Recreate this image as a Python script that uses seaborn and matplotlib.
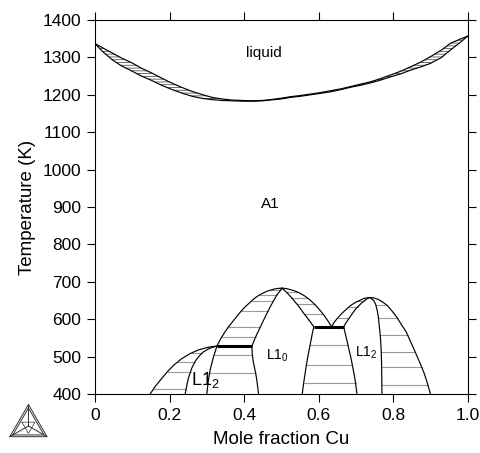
import numpy as np
import matplotlib
matplotlib.use('Agg')
import matplotlib.pyplot as plt
import seaborn as sns

# liquid / A1 lens
liq_x = [0.0, 0.02, 0.046, 0.07, 0.1, 0.125, 0.153, 0.18, 0.207, 0.235,
         0.261, 0.29, 0.315, 0.34, 0.368, 0.395, 0.422, 0.45, 0.47, 0.5,
         0.524, 0.55, 0.578, 0.605, 0.632, 0.66, 0.685, 0.71, 0.74, 0.765,
         0.793, 0.82, 0.847, 0.875, 0.9, 0.93, 0.954, 0.98, 1.0]
liquidus_T = [1337, 1326, 1312, 1299, 1285, 1271, 1258, 1244, 1231, 1219,
              1209, 1200, 1193, 1189, 1186, 1185, 1184, 1185, 1187, 1191,
              1195, 1198, 1202, 1206, 1211, 1216, 1222, 1228, 1235, 1243,
              1253, 1263, 1275, 1288, 1302, 1320, 1338, 1349, 1357]
solidus_T = [1337, 1316, 1294, 1278, 1263, 1250, 1238, 1225, 1214, 1204,
             1196, 1190, 1187, 1185, 1184, 1183, 1183, 1184, 1186, 1189,
             1193, 1196, 1200, 1204, 1208, 1214, 1220, 1225, 1232, 1239,
             1248, 1256, 1266, 1275, 1284, 1300, 1320, 1340, 1357]

# Au3Cu (L1_2) dome
au3cu_outer_x = [0.148, 0.16, 0.175, 0.192, 0.21, 0.232, 0.255, 0.278, 0.30, 0.315, 0.327]
au3cu_outer_T = [400, 418, 437, 457, 476, 494, 508, 518, 524, 527, 528]
au3cu_inner_x = [0.242, 0.246, 0.250, 0.255, 0.260, 0.266, 0.272, 0.281, 0.29, 0.30, 0.31, 0.319, 0.327]
au3cu_inner_T = [400, 421, 440, 456, 470, 482, 492, 503, 512, 518, 523, 526, 528]
au3cu_right_x = [0.300, 0.304, 0.309, 0.314, 0.318, 0.323, 0.327]
au3cu_right_T = [400, 435, 464, 484, 500, 515, 528]

# AuCu (L1_0) dome
aucu_low_left_x = [0.439, 0.436, 0.433, 0.429, 0.425, 0.422, 0.421]
aucu_low_left_T = [400, 423, 445, 466, 485, 507, 528]
aucu_outer_left_x = [0.327, 0.338, 0.35, 0.361, 0.372, 0.384, 0.395, 0.406, 0.417,
                     0.428, 0.44, 0.451, 0.462, 0.472, 0.482, 0.492, 0.502]
aucu_outer_left_T = [528, 549, 568, 583, 597, 612, 625, 636, 646,
                     656, 664, 670, 675, 678, 681, 682.5, 683]
aucu_inner_left_x = [0.421, 0.432, 0.444, 0.457, 0.47, 0.488, 0.502]
aucu_inner_left_T = [528, 555, 580, 607, 633, 665, 683]
aucu_inner_right_x = [0.502, 0.518, 0.533, 0.547, 0.56, 0.574, 0.587]
aucu_inner_right_T = [683, 668, 651, 634, 616, 598, 580]
aucu_outer_right_x = [0.502, 0.513, 0.525, 0.538, 0.551, 0.563, 0.575, 0.586, 0.596,
                      0.607, 0.617, 0.626, 0.635]
aucu_outer_right_T = [683, 682, 679, 675, 669, 662, 653, 643, 633, 620, 607, 594, 580]
aucu_low_right_x = [0.556, 0.561, 0.566, 0.571, 0.577, 0.582, 0.587]
aucu_low_right_T = [400, 437, 470, 500, 530, 556, 580]

# Cu3Au (L1_2) dome
cu3au_low_left_x = [0.703, 0.698, 0.692, 0.686, 0.679, 0.673, 0.667]
cu3au_low_left_T = [400, 437, 470, 500, 530, 556, 580]
cu3au_outer_left_x = [0.635, 0.642, 0.65, 0.658, 0.667, 0.676, 0.685, 0.694, 0.703,
                      0.712, 0.72, 0.728, 0.737]
cu3au_outer_left_T = [580, 592, 602, 611, 620, 628, 636, 642, 647, 651, 655, 657, 658]
cu3au_inner_left_x = [0.667, 0.674, 0.68, 0.687, 0.694, 0.701, 0.708, 0.715, 0.721, 0.729, 0.737]
cu3au_inner_left_T = [580, 591, 600, 610, 620, 629, 636, 643, 648, 654, 658]
cu3au_inner_right_x = [0.737, 0.742, 0.748, 0.753, 0.757, 0.760, 0.762, 0.764, 0.766, 0.768, 0.769, 0.770]
cu3au_inner_right_T = [658, 655, 650, 640, 625, 608, 590, 570, 550, 515, 480, 400]
cu3au_outer_right_x = [0.737, 0.748, 0.76, 0.772, 0.785, 0.797, 0.81, 0.822, 0.835,
                       0.845, 0.855, 0.865, 0.875, 0.883, 0.89, 0.895, 0.90]
cu3au_outer_right_T = [658, 657, 653, 646, 636, 622, 605, 586, 566,
                       544, 522, 499, 476, 456, 435, 418, 400]

# three-phase lines
inv_T = [528, 580]
inv_x_from = [0.327, 0.587]
inv_x_to = [0.421, 0.667]

# tie-line temperatures in each two-phase field
ties_au3cu_a1 = [413, 460, 486, 510]
ties_au3cu_aucu = [455, 504]
ties_aucu_a1_left = [553, 578, 622, 648, 665, 678]
ties_aucu_a1_right = [614, 640, 658, 672]
ties_aucu_cu3au = [429, 477, 531]
ties_cu3au_a1_left = [602, 633, 648]
ties_cu3au_a1_right = [424, 473, 513, 558, 602, 638]

x_ticks = [0, 0.2, 0.4, 0.6, 0.8, 1.0]
x_tick_labels = ['0', '0.2', '0.4', '0.6', '0.8', '1.0']
y_ticks = [400, 500, 600, 700, 800, 900, 1000, 1100, 1200, 1300, 1400]

sns.set_style('ticks')
plt.rcParams['font.family'] = ['Liberation Sans', 'DejaVu Sans']
plt.rcParams['mathtext.default'] = 'regular'
plt.rcParams['hatch.linewidth'] = 0.6
plt.rcParams.update({'text.color': 'black', 'axes.labelcolor': 'black',
                     'xtick.color': 'black', 'ytick.color': 'black'})

fig = plt.figure(figsize=(4.81, 4.53), dpi=100)
ax = fig.add_axes([0.1975, 0.1302, 0.7748, 0.8256])

LW = 0.85
TIE = '#9a9a9a'


def curve(xs, ts):
    sns.lineplot(x=xs, y=ts, sort=False, estimator=None, color='black',
                 linewidth=LW, ax=ax)


def ties(left, right, temps):
    lx, lt = left
    rx, rt = right
    lo = np.argsort(lt)
    ro = np.argsort(rt)
    for t in temps:
        x0 = np.interp(t, np.array(lt)[lo], np.array(lx)[lo])
        x1 = np.interp(t, np.array(rt)[ro], np.array(rx)[ro])
        ax.plot([x0, x1], [t, t], color=TIE, lw=0.8)


# liquid lens hatching
ax.fill_between(liq_x, solidus_T, liquidus_T, facecolor='none',
                edgecolor='#555555', hatch='------', linewidth=0)
curve(liq_x, liquidus_T)
curve(liq_x, solidus_T)

# tie lines in ordered-phase fields
ties((au3cu_outer_x, au3cu_outer_T), (au3cu_inner_x, au3cu_inner_T), ties_au3cu_a1)
ties((au3cu_right_x, au3cu_right_T), (aucu_low_left_x, aucu_low_left_T), ties_au3cu_aucu)
ties((aucu_outer_left_x, aucu_outer_left_T), (aucu_inner_left_x, aucu_inner_left_T), ties_aucu_a1_left)
ties((aucu_inner_right_x, aucu_inner_right_T), (aucu_outer_right_x, aucu_outer_right_T), ties_aucu_a1_right)
ties((aucu_low_right_x, aucu_low_right_T), (cu3au_low_left_x, cu3au_low_left_T), ties_aucu_cu3au)
ties((cu3au_outer_left_x, cu3au_outer_left_T), (cu3au_inner_left_x, cu3au_inner_left_T), ties_cu3au_a1_left)
ties((cu3au_inner_right_x, cu3au_inner_right_T), (cu3au_outer_right_x, cu3au_outer_right_T), ties_cu3au_a1_right)

for xs, ts in [(au3cu_outer_x, au3cu_outer_T), (au3cu_inner_x, au3cu_inner_T),
               (au3cu_right_x, au3cu_right_T), (aucu_low_left_x, aucu_low_left_T),
               (aucu_outer_left_x, aucu_outer_left_T), (aucu_inner_left_x, aucu_inner_left_T),
               (aucu_inner_right_x, aucu_inner_right_T), (aucu_outer_right_x, aucu_outer_right_T),
               (aucu_low_right_x, aucu_low_right_T), (cu3au_low_left_x, cu3au_low_left_T),
               (cu3au_outer_left_x, cu3au_outer_left_T), (cu3au_inner_left_x, cu3au_inner_left_T),
               (cu3au_inner_right_x, cu3au_inner_right_T), (cu3au_outer_right_x, cu3au_outer_right_T)]:
    curve(xs, ts)

ax.hlines(inv_T, inv_x_from, inv_x_to, color='black', linewidth=2.2)

# phase labels
ax.text(0.452, 1302, 'liquid', fontsize=11, ha='center', va='baseline')
ax.text(0.47, 897, 'A1', fontsize=11, ha='center', va='baseline')
ax.text(0.489, 493, 'L1$_0$', fontsize=10, ha='center', va='baseline')
ax.text(0.729, 500, 'L1$_2$', fontsize=10, ha='center', va='baseline')
ax.text(0.2965, 424, 'L1$_2$', fontsize=13, ha='center', va='baseline')

ax.set_xlim(0, 1)
ax.set_ylim(400, 1400)
ax.set_xticks(x_ticks)
ax.set_xticklabels(x_tick_labels)
ax.set_yticks(y_ticks)
ax.tick_params(direction='out', length=5.8, width=0.8, labelsize=12.5, pad=4,
               top=True, right=True)
for s in ax.spines.values():
    s.set_linewidth(0.8)
    s.set_color('black')
ax.set_xlabel('Mole fraction Cu', fontsize=13.5, labelpad=6)
ax.set_ylabel('Temperature (K)', fontsize=13.5, labelpad=5)

# software logo in the lower left corner
lg = fig.add_axes([0.0166, 0.0309, 0.085, 0.0817])
lg.set_xlim(-0.05, 1.05)
lg.set_ylim(-0.05, 0.92)
lg.set_aspect('equal')
lg.axis('off')
tri_x = np.array([0, 1, 0.5, 0])
tri_y = np.array([0, 0, 0.866, 0])
cx, cy = 0.5, 0.2887
for sc in [1.0, 0.84]:
    lg.plot(cx + (tri_x - cx) * sc, cy + (tri_y - cy) * sc, color='#333333', lw=0.7)
for vx, vy in zip(tri_x[:3], tri_y[:3]):
    lg.plot([cx, vx], [cy, vy], color='#333333', lw=0.7)
lg.plot(cx + (tri_x - cx) * 0.35, cy - (tri_y - cy) * 0.35, color='#333333', lw=0.5)

fig.savefig('out.png', dpi=100)
